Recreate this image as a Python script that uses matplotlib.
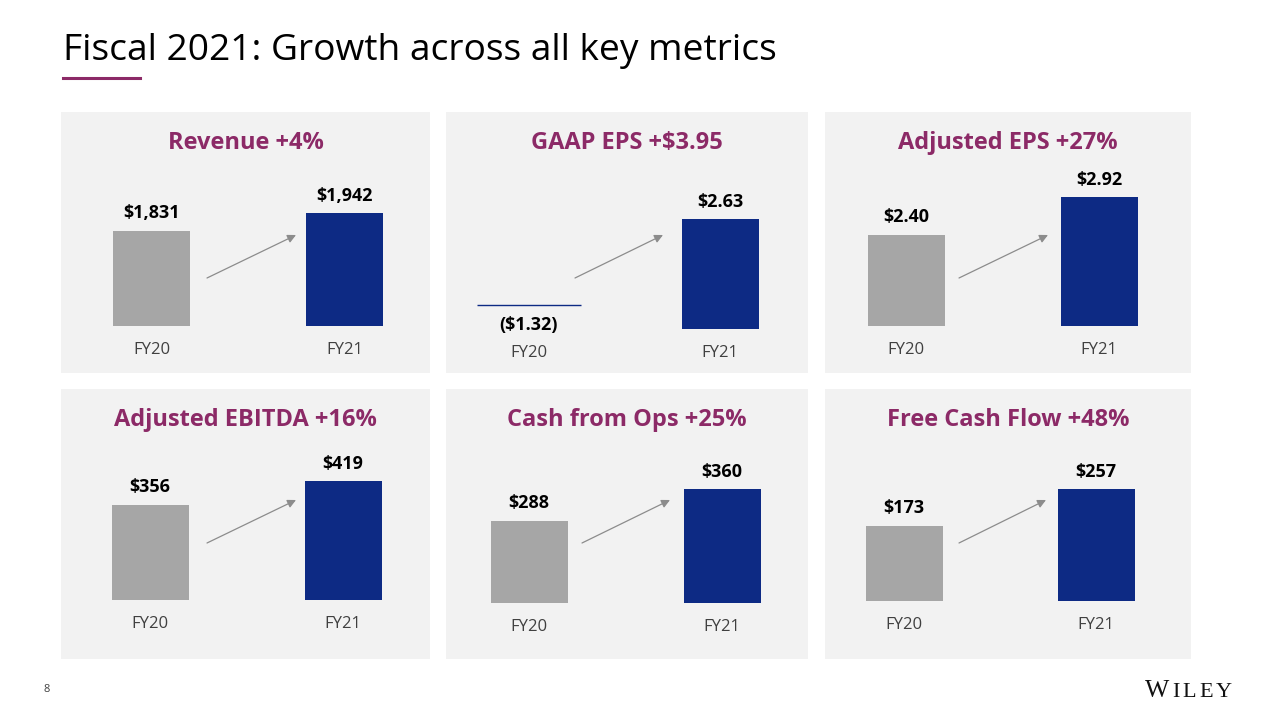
import matplotlib
matplotlib.use("Agg")
import matplotlib.pyplot as plt
from matplotlib.patches import Rectangle, FancyArrowPatch

plt.rcParams["font.family"] = ["Open Sans", "DejaVu Sans"]

# ============================================
# Data (US$ millions, EPS in US$)
# ============================================
titles = ["Revenue +4%", "GAAP EPS +$3.95", "Adjusted EPS +27%",
          "Adjusted EBITDA +16%", "Cash from Ops +25%", "Free Cash Flow +48%"]
categories = ["FY20", "FY21"]
fy20 = [1831, -1.32, 2.40, 356, 288, 173]
fy21 = [1942, 2.63, 2.92, 419, 360, 257]
fy20_labels = ["$1,831", "($1.32)", "$2.40", "$356", "$288", "$173"]
fy21_labels = ["$1,942", "$2.63", "$2.92", "$419", "$360", "$257"]

# axis limits per panel (value axis does not start at zero)
y_min = [1251, -0.72, 1.155, 106.6, 103.5, 2.7]
y_max = [2107, 3.54, 3.07, 474, 418.5, 320.6]

# ============================================
# Layout (pixels, top-left origin)
# ============================================
W, H = 1280, 720
GRAY = "#a6a6a6"
NAVY = "#0d2a84"
PURPLE = "#8c2a67"
PANEL_BG = "#f2f2f2"

panel_x = [(61, 430), (446, 808), (825, 1191)]
panel_y = [(112, 373), (389, 659)]
baselines = [326, 329, 326, 600, 603, 601]
centers = [(90.5, 283.5), (83, 274), (81, 274), (89, 282), (83, 276), (79, 271)]
arrows = [((146, 166), (235, 123)), ((129, 166), (217, 123)), ((134, 166), (223, 123)),
          ((146, 154), (235, 111)), ((136, 154), (224, 111)), ((134, 154), (221, 111))]
AX_H = 140

fig = plt.figure(figsize=(W / 100, H / 100), dpi=100)
fig.patch.set_facecolor("white")

# title + underline
fig.text(63 / W, 1 - 51 / H, "Fiscal 2021: Growth across all key metrics",
         fontsize=26.7, color="black", va="center", ha="left")
fig.add_artist(plt.Line2D([63 / W, 140 / W], [1 - 78 / H, 1 - 78 / H],
                          color=PURPLE, lw=2.2))

for i in range(6):
    row, col = divmod(i, 3)
    x0, x1 = panel_x[col]
    top, bot = panel_y[row]
    pw = x1 - x0

    fig.add_artist(Rectangle((x0 / W, 1 - bot / H), pw / W, (bot - top) / H,
                             transform=fig.transFigure, facecolor=PANEL_BG,
                             edgecolor="none", zorder=0))
    fig.text((x0 + x1) / 2 / W, 1 - (top + 31) / H, titles[i], color=PURPLE,
             fontsize=17, fontweight="bold", ha="center", va="center")

    base = baselines[i]
    ax = fig.add_axes([x0 / W, 1 - base / H, pw / W, AX_H / H])
    ax.set_facecolor("none")
    c0, c1 = centers[i]
    d = c1 - c0
    ax.set_xlim(-c0 / d, (pw - c0) / d)
    ax.set_ylim(y_min[i], y_max[i])
    ax.axis("off")

    bw = 77 / d
    lo = y_min[i]
    if fy20[i] > lo:
        ax.bar(0, fy20[i] - lo, bottom=lo, width=bw, color=GRAY)
        ax.annotate(fy20_labels[i], (0, fy20[i]), textcoords="offset pixels",
                    xytext=(0, 18), ha="center", va="center", fontsize=13,
                    fontweight="bold", annotation_clip=False)
    else:
        # negative value: drawn as a thin line at zero
        ax.hlines(0, -52 / d, 52 / d, color=NAVY, lw=1)
        ax.annotate(fy20_labels[i], (0, 0), textcoords="offset pixels",
                    xytext=(0, -20), ha="center", va="center", fontsize=13,
                    fontweight="bold", annotation_clip=False)
    ax.bar(1, fy21[i] - lo, bottom=lo, width=bw, color=NAVY)
    ax.annotate(fy21_labels[i], (1, fy21[i]), textcoords="offset pixels",
                xytext=(0, 17), ha="center", va="center", fontsize=13,
                fontweight="bold", annotation_clip=False)

    for j, cat in enumerate(categories):
        ax.annotate(cat, (j, 0), xycoords=("data", "axes fraction"),
                    textcoords="offset pixels", xytext=(0, -24), ha="center",
                    va="center", fontsize=12, color="#404040",
                    annotation_clip=False)

    (sx, sy), (ex, ey) = arrows[i]
    fig.add_artist(FancyArrowPatch(
        ((x0 + sx) / W, 1 - (top + sy) / H), ((x0 + ex) / W, 1 - (top + ey) / H),
        transform=fig.transFigure, arrowstyle="-|>,head_length=5,head_width=2.5",
        color="#8c8c8c", lw=0.9, mutation_scale=1, shrinkA=0, shrinkB=0))

# footer
fig.text(47 / W, 1 - 690 / H, "8", fontsize=8, color="#404040", ha="center", va="center")
logo = [("W", 1145, 18.5), ("I", 1172, 16), ("L", 1182, 16), ("E", 1199, 16), ("Y", 1216, 16)]
for ch, lx, fs in logo:
    fig.text(lx / W, 1 - 697 / H, ch, family="Liberation Serif", fontsize=fs,
             ha="left", va="baseline", color="#111111")

plt.savefig("out.png", dpi=100)
